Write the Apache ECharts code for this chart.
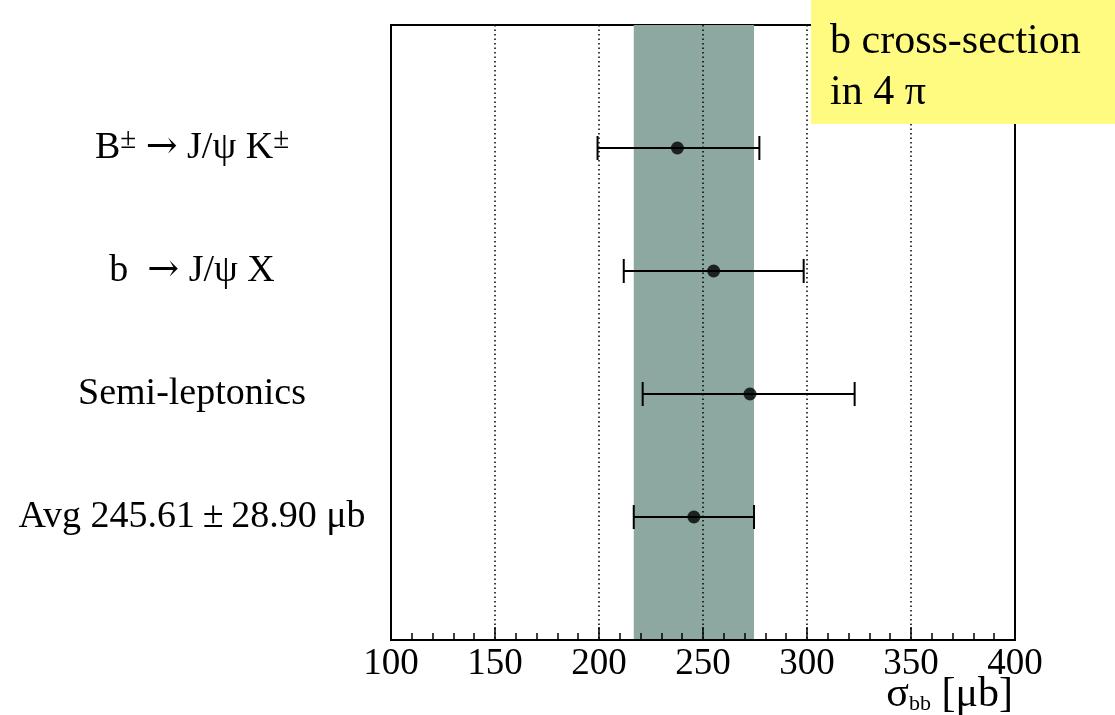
<!DOCTYPE html>
<html>
<head>
<meta charset="utf-8">
<script src="https://cdn.jsdelivr.net/npm/echarts@6/dist/echarts.min.js"></script>
<style>
html,body{margin:0;padding:0;background:#fff;}
#c{width:1115px;height:715px;}
</style>
</head>
<body>
<div id="c"></div>
<script>
// ---- data ----
const labels = ['B{sup|±} {arr|→} J/ψ K{sup|±}', 'b  {arr|→} J/ψ X', 'Semi-leptonics', 'AVG'];
const centers = [237.7, 255.1, 272.6, 245.61];
const lows = [199.3, 211.9, 221.0, 216.71];
const highs = [277.1, 298.4, 322.9, 274.51];
const avgValue = 245.61;
const avgError = 28.90;
const xMin = 100, xMax = 400, xStep = 50;
const boxLines = ['b cross-section', 'in 4 π'];
const axisTitle = '{s|σ}{sub|bb}{s| [μb]}';

const FONT = "'Liberation Serif','Times New Roman',serif";
const nRows = labels.length;
const rowY = labels.map((_, i) => nRows - i);
const labelText = labels.map(l => l === 'AVG'
  ? 'Avg ' + avgValue.toFixed(2) + '\u2009±\u2009' + avgError.toFixed(2) + ' μb' : l);

const barData = centers.map((c, i) => [c, rowY[i], lows[i], highs[i]]);
const dotData = centers.map((c, i) => [c, rowY[i]]);

const chart = echarts.init(document.getElementById('c'), null, {renderer: 'canvas'});
chart.setOption({
  animation: false,
  backgroundColor: '#fff',
  grid: {left: 391, right: 100, top: 25, bottom: 75, show: true, outerBoundsMode: 'none',
         containLabel: false,
         borderColor: '#000', borderWidth: 2, backgroundColor: 'transparent'},
  xAxis: {
    type: 'value', min: xMin, max: xMax, interval: xStep, z: 3,
    axisLine: {show: true, onZero: false, lineStyle: {color: '#000', width: 2}},
    axisTick: {show: true, inside: true, length: 13, lineStyle: {color: '#000', width: 1.5}},
    minorTick: {show: true, splitNumber: 5, length: 7, lineStyle: {color: '#000', width: 1.5}},
    splitLine: {show: true, lineStyle: {color: '#000', width: 1.5, type: [1.5, 3]}},
    axisLabel: {show: true, color: '#000', fontSize: 37, fontFamily: FONT, margin: 6,
                showMinLabel: true, showMaxLabel: true}
  },
  yAxis: {
    type: 'value', min: 0, max: nRows + 1, interval: 1,
    axisLine: {show: false}, axisTick: {show: false}, splitLine: {show: false},
    axisLabel: {
      show: true, margin: 199, align: 'center', color: '#000',
      fontSize: 38, fontFamily: FONT, lineHeight: 44,
      formatter: function (v) {
        const i = rowY.indexOf(v);
        return i >= 0 ? labelText[i] : '';
      },
      rich: {
        sup: {fontSize: 29, fontFamily: FONT, color: '#000', verticalAlign: 'top', lineHeight: 20},
        arr: {fontSize: 38, fontFamily: "'DejaVu Serif'", color: '#000'}
      }
    }
  },
  series: [
    {
      type: 'line', data: [], z: 1, silent: true,
      markArea: {
        silent: true,
        itemStyle: {color: '#8CA8A0', opacity: 1},
        data: [[{xAxis: avgValue - avgError}, {xAxis: avgValue + avgError}]]
      }
    },
    {
      type: 'custom', z: 5, silent: true,
      data: barData,
      renderItem: function (params, api) {
        const y = api.value(1);
        const p0 = api.coord([api.value(2), y]);
        const p1 = api.coord([api.value(3), y]);
        const h = 12;
        const st = {stroke: '#000', lineWidth: 2};
        return {type: 'group', children: [
          {type: 'line', shape: {x1: p0[0], y1: p0[1], x2: p1[0], y2: p1[1]}, style: st},
          {type: 'line', shape: {x1: p0[0], y1: p0[1] - h, x2: p0[0], y2: p0[1] + h}, style: st},
          {type: 'line', shape: {x1: p1[0], y1: p1[1] - h, x2: p1[0], y2: p1[1] + h}, style: st}
        ]};
      }
    },
    {
      type: 'scatter', z: 6, data: dotData, symbol: 'circle', symbolSize: 13,
      itemStyle: {color: '#000'}, silent: true
    }
  ],
  graphic: [
    {type: 'rect', left: 811, top: 0, z: 100, shape: {width: 304, height: 124},
     style: {fill: '#FFFA80'}},
    {type: 'text', left: 830, top: 16, z: 101,
     style: {text: boxLines.join('\n'), fontSize: 42, lineHeight: 51, fontFamily: FONT, fill: '#000'}},
    {type: 'text', right: 102, top: 674, z: 101,
     style: {text: axisTitle, fontSize: 38, fontFamily: FONT, fill: '#000',
       rich: {
         s: {fontSize: 42, fontFamily: FONT, fill: '#000', lineHeight: 40},
         sub: {fontSize: 22, fontFamily: FONT, fill: '#000', verticalAlign: 'bottom', lineHeight: 22}
       }}}
  ]
});
</script>
</body>
</html>
